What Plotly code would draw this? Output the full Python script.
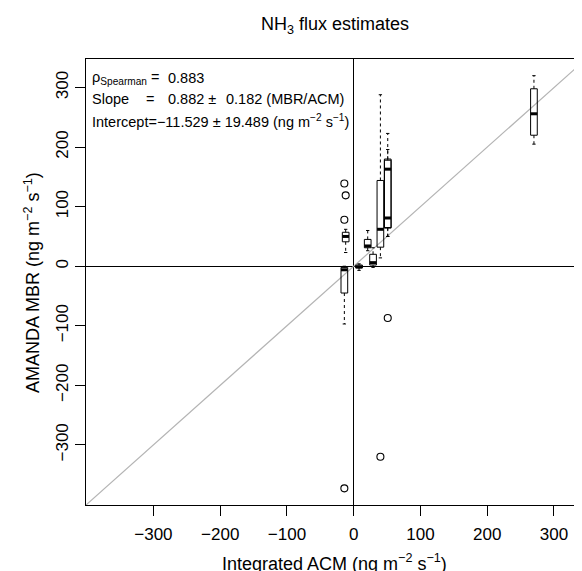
import plotly.graph_objects as go

# ---- data ----
box_x   = [-12, -14, 8, 21, 29, 40, 51, 51, 270]
box_lo  = [23, -97, -7, 26, -2, 14, 50, 50, 205]
box_q1  = [41, -45, -3, 31, 2, 32, 65, 64, 220]
box_med = [50, -6, -1, 34, 6, 62, 163, 81, 256]
box_q3  = [57, -2, 2, 45, 20, 144, 180, 178, 298]
box_hi  = [62, 0, 4, 60, 31, 288, 223, 196, 320]

out_x = [-12, -14, -14, -14, 40, 51]
out_y = [119, 139, 78, -373, -320, -87]

x_ticks = [-300, -200, -100, 0, 100, 200, 300]
y_ticks = [-300, -200, -100, 0, 100, 200, 300]
lim = [-401, 348]

# ---- geometry helpers ----
W = 5.0      # half box width (x units)
CAP = 2.5    # half staple width

rx, ry, mx, my, wx, wy, cx, cy = [], [], [], [], [], [], [], []
for x, lo, q1, md, q3, hi in zip(box_x, box_lo, box_q1, box_med, box_q3, box_hi):
    rx += [x - W, x + W, x + W, x - W, x - W, None]
    ry += [q1, q1, q3, q3, q1, None]
    mx += [x - W, x + W, None]
    my += [md, md, None]
    wx += [x, x, None, x, x, None]
    wy += [q3, hi, None, q1, lo, None]
    cx += [x - CAP, x + CAP, None, x - CAP, x + CAP, None]
    cy += [hi, hi, None, lo, lo, None]

FONT = "Liberation Sans, Arial, Helvetica, sans-serif"

fig = go.Figure()
fig.add_trace(go.Scatter(x=lim, y=lim, mode="lines",
                         line=dict(color="#b4b4b4", width=1.2), hoverinfo="skip"))
fig.add_trace(go.Scatter(x=wx, y=wy, mode="lines",
                         line=dict(color="black", width=1, dash="3px,3px")))
fig.add_trace(go.Scatter(x=cx, y=cy, mode="lines", line=dict(color="black", width=1)))
fig.add_trace(go.Scatter(x=rx, y=ry, mode="lines", line=dict(color="black", width=1)))
fig.add_trace(go.Scatter(x=mx, y=my, mode="lines", line=dict(color="black", width=3)))
fig.add_trace(go.Scatter(x=out_x, y=out_y, mode="markers",
                         marker=dict(symbol="circle-open", size=7, color="black",
                                     line=dict(width=1.1))))

axis_common = dict(
    showgrid=False, zeroline=True, zerolinecolor="black", zerolinewidth=1,
    showline=True, linecolor="black", linewidth=1,
    ticks="outside", ticklen=10, tickwidth=1, tickcolor="black",
    tickfont=dict(family=FONT, size=17, color="black"),
)

# page body has an 8px margin, so the figure is 8px smaller and offset
fig.update_layout(
    width=574, height=563,
    margin=dict(l=78, r=0, t=51, b=66),
    paper_bgcolor="white", plot_bgcolor="white",
    showlegend=False,
    font=dict(family=FONT, color="black"),
    xaxis=dict(range=[lim[0], 342], tickvals=x_ticks, mirror=True,
               ticklabelstandoff=4, **axis_common),
    yaxis=dict(range=lim, tickvals=y_ticks, tickangle=-90, **axis_common),
)

ann = []
def add(text, x, y, size, xanchor="left", angle=0):
    ann.append(dict(text=text, x=x, y=y, xref="paper", yref="paper",
                    xanchor=xanchor, yanchor="middle", showarrow=False,
                    textangle=angle, font=dict(family=FONT, size=size, color="black")))

add("NH<sub>3</sub> flux estimates", 0.502, 1.076, 18, "center")
add("Integrated ACM (ng m<sup>−2</sup> s<sup>−1</sup>)", 0.502, -0.128, 18, "center")
add("AMANDA MBR (ng m<sup>−2</sup> s<sup>−1</sup>)", -0.109, 0.5, 18, "center", -90)

LS = 14.5
add("ρ<sub>Spearman</sub> =", 0.008, 0.957, LS)
add("0.883", 0.161, 0.957, LS)
add("Slope", 0.008, 0.910, LS)
add("=", 0.117, 0.910, LS)
add("0.882 ±", 0.161, 0.910, LS)
add("0.182 (MBR/ACM)", 0.278, 0.910, LS)
add("Intercept=−11.529 ± 19.489 (ng m<sup>−2</sup> s<sup>−1</sup>)", 0.008, 0.862, LS)
fig.update_layout(annotations=ann)

fig.write_html("out.html")
